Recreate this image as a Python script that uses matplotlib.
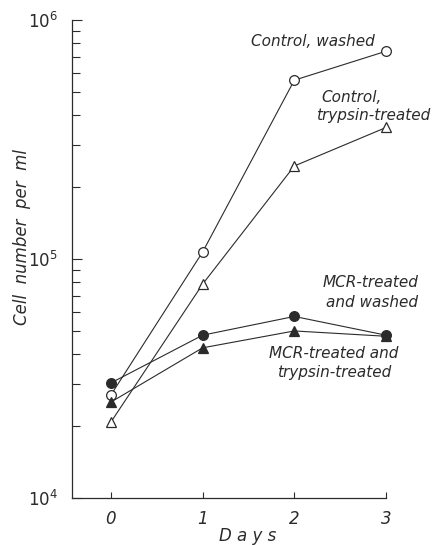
import matplotlib
matplotlib.use("Agg")
import matplotlib.pyplot as plt
from matplotlib.ticker import LogLocator, NullFormatter, FixedFormatter, FixedLocator

plt.rcParams["font.family"] = ["DejaVu Sans"]
plt.rcParams["mathtext.fontset"] = "dejavusans"
plt.rcParams["mathtext.default"] = "it"

# Cell counts (cells per ml) over four days of culture
days = [0, 1, 2, 3]
control_washed = [2.7e4, 1.07e5, 5.6e5, 7.4e5]
control_trypsin = [2.08e4, 7.85e4, 2.45e5, 3.55e5]
mcr_washed = [3.03e4, 4.8e4, 5.75e4, 4.8e4]
mcr_trypsin = [2.52e4, 4.25e4, 5.0e4, 4.75e4]

x_ticks = [0, 1, 2, 3]
x_tick_labels = ["0", "1", "2", "3"]
y_ticks = [1e4, 1e5, 1e6]
y_tick_labels = [r"$10^{4}$", r"$10^{5}$", r"$10^{6}$"]

ink = "#2b2b2b"
fig = plt.figure(figsize=(4.43, 5.45), dpi=100)
ax = fig.add_axes([72 / 443, 47 / 545, 314 / 443, 478 / 545])

line_kw = dict(color=ink, lw=0.8, ms=7, mew=0.9, clip_on=False)
ax.plot(days, control_washed, marker="o", mfc="white", mec=ink, **line_kw)
ax.plot(days, control_trypsin, marker="^", mfc="white", mec=ink, **line_kw)
ax.plot(days, mcr_washed, marker="o", mfc=ink, mec=ink, **line_kw)
ax.plot(days, mcr_trypsin, marker="^", mfc=ink, mec=ink, **line_kw)

ax.set_yscale("log")
ax.set_ylim(1e4, 1e6)
ax.set_xlim(-0.425, 3.0)

ax.yaxis.set_major_locator(FixedLocator(y_ticks))
ax.yaxis.set_major_formatter(FixedFormatter(y_tick_labels))
ax.yaxis.set_minor_locator(LogLocator(base=10, subs=range(2, 10)))
ax.yaxis.set_minor_formatter(NullFormatter())
ax.xaxis.set_major_locator(FixedLocator(x_ticks))
ax.xaxis.set_major_formatter(FixedFormatter(x_tick_labels))

ax.tick_params(axis="y", which="major", direction="in", length=7, width=0.8,
               color=ink, labelsize=12, labelcolor=ink, pad=10)
ax.tick_params(axis="y", which="minor", direction="in", length=6, width=0.8, color=ink)
ax.tick_params(axis="x", which="major", direction="in", length=4, width=0.8,
               color=ink, labelsize=12, labelcolor=ink, pad=9)
for lab in ax.get_xticklabels():
    lab.set_fontstyle("italic")

for side in ("top", "right"):
    ax.spines[side].set_visible(False)
for side in ("left", "bottom"):
    ax.spines[side].set_color(ink)
    ax.spines[side].set_linewidth(0.9)

ax.set_xlabel("D a y s", fontsize=12, color=ink, fontstyle="italic", va="center")
ax.xaxis.set_label_coords((248 - 72) / 314, -(536 - 498) / 478)
ax.set_ylabel("Cell  number  per  ml", fontsize=12, color=ink, fontstyle="italic")
ax.yaxis.set_label_coords(-(72 - 31) / 314, (498 - 237) / 478)

txt = dict(transform=ax.transAxes, fontsize=11, color=ink, fontstyle="italic",
           va="center", clip_on=False)
ax.text(0.768, 0.954, "Control, washed", ha="center", **txt)
ax.text(0.889, 0.837, "Control,", ha="center", **txt)
ax.text(0.959, 0.801, "trypsin-treated", ha="center", **txt)
ax.text(1.102, 0.450, "MCR-treated", ha="right", **txt)
ax.text(1.102, 0.410, "and washed", ha="right", **txt)
ax.text(0.834, 0.303, "MCR-treated and", ha="center", **txt)
ax.text(0.834, 0.262, "trypsin-treated", ha="center", **txt)

fig.savefig("out.png", dpi=100, facecolor="white")
